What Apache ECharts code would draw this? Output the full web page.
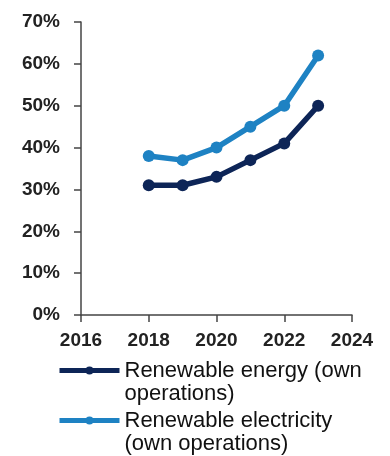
<!DOCTYPE html>
<html>
<head>
<meta charset="utf-8">
<script src="https://cdn.jsdelivr.net/npm/echarts@6/dist/echarts.min.js"></script>
<style>
  html, body { margin: 0; padding: 0; background: #fff; }
  #chart { width: 390px; height: 456px; }
</style>
</head>
<body>
<div id="chart"></div>
<script>
// Share of renewables in own operations, by year
const years = [2018, 2019, 2020, 2021, 2022, 2023];
const renewableEnergy = [31, 31, 33, 37, 41, 50];
const renewableElectricity = [38, 37, 40, 45, 50, 62];
const seriesNames = ['Renewable energy (own\noperations)', 'Renewable electricity\n(own operations)'];

const DARK = '#0d2557';
const LIGHT = '#1e82c3';
const FONT = '"Liberation Sans", Arial, sans-serif';

const chart = echarts.init(document.getElementById('chart'));

function lineSeries(name, values, color) {
  return {
    name: name,
    type: 'line',
    data: years.map((y, i) => [y, values[i]]),
    symbol: 'circle',
    symbolSize: 12,
    lineStyle: { color: color, width: 5.5 },
    itemStyle: { color: color },
    animation: false
  };
}

// One legend block per series; a blank leading line keeps the
// first text line level with the icon
function legendBlock(name, top) {
  return {
    left: 52, top: top,
    itemWidth: 60, itemHeight: 10,
    lineStyle: { width: 5 },
    formatter: n => ' \n' + n,
    textStyle: { color: '#111', fontFamily: FONT, fontSize: 22, lineHeight: 23 },
    data: [name]
  };
}

chart.setOption({
  animation: false,
  grid: { left: 81, right: 38, top: 22, bottom: 141, containLabel: false },
  xAxis: {
    type: 'value',
    min: 2016, max: 2024, interval: 2,
    splitLine: { show: false },
    axisLine: { show: true, lineStyle: { color: '#444', width: 1.5 } },
    axisTick: { show: true, length: 7, lineStyle: { color: '#444', width: 1.5 } },
    axisLabel: {
      color: '#222', fontFamily: FONT, fontSize: 19, fontWeight: 'bold', margin: 16,
      formatter: v => String(v)
    }
  },
  yAxis: {
    type: 'value',
    min: 0, max: 70, interval: 10,
    splitLine: { show: false },
    axisLine: { show: true, lineStyle: { color: '#444', width: 1.5 } },
    axisTick: { show: true, length: 7, lineStyle: { color: '#444', width: 1.5 } },
    axisLabel: {
      color: '#222', fontFamily: FONT, fontSize: 19, fontWeight: 'bold', margin: 21,
      formatter: v => v + '%'
    }
  },
  legend: [
    legendBlock(seriesNames[0], 331),
    legendBlock(seriesNames[1], 381)
  ],
  series: [
    lineSeries(seriesNames[0], renewableEnergy, DARK),
    lineSeries(seriesNames[1], renewableElectricity, LIGHT)
  ]
});
</script>
</body>
</html>
